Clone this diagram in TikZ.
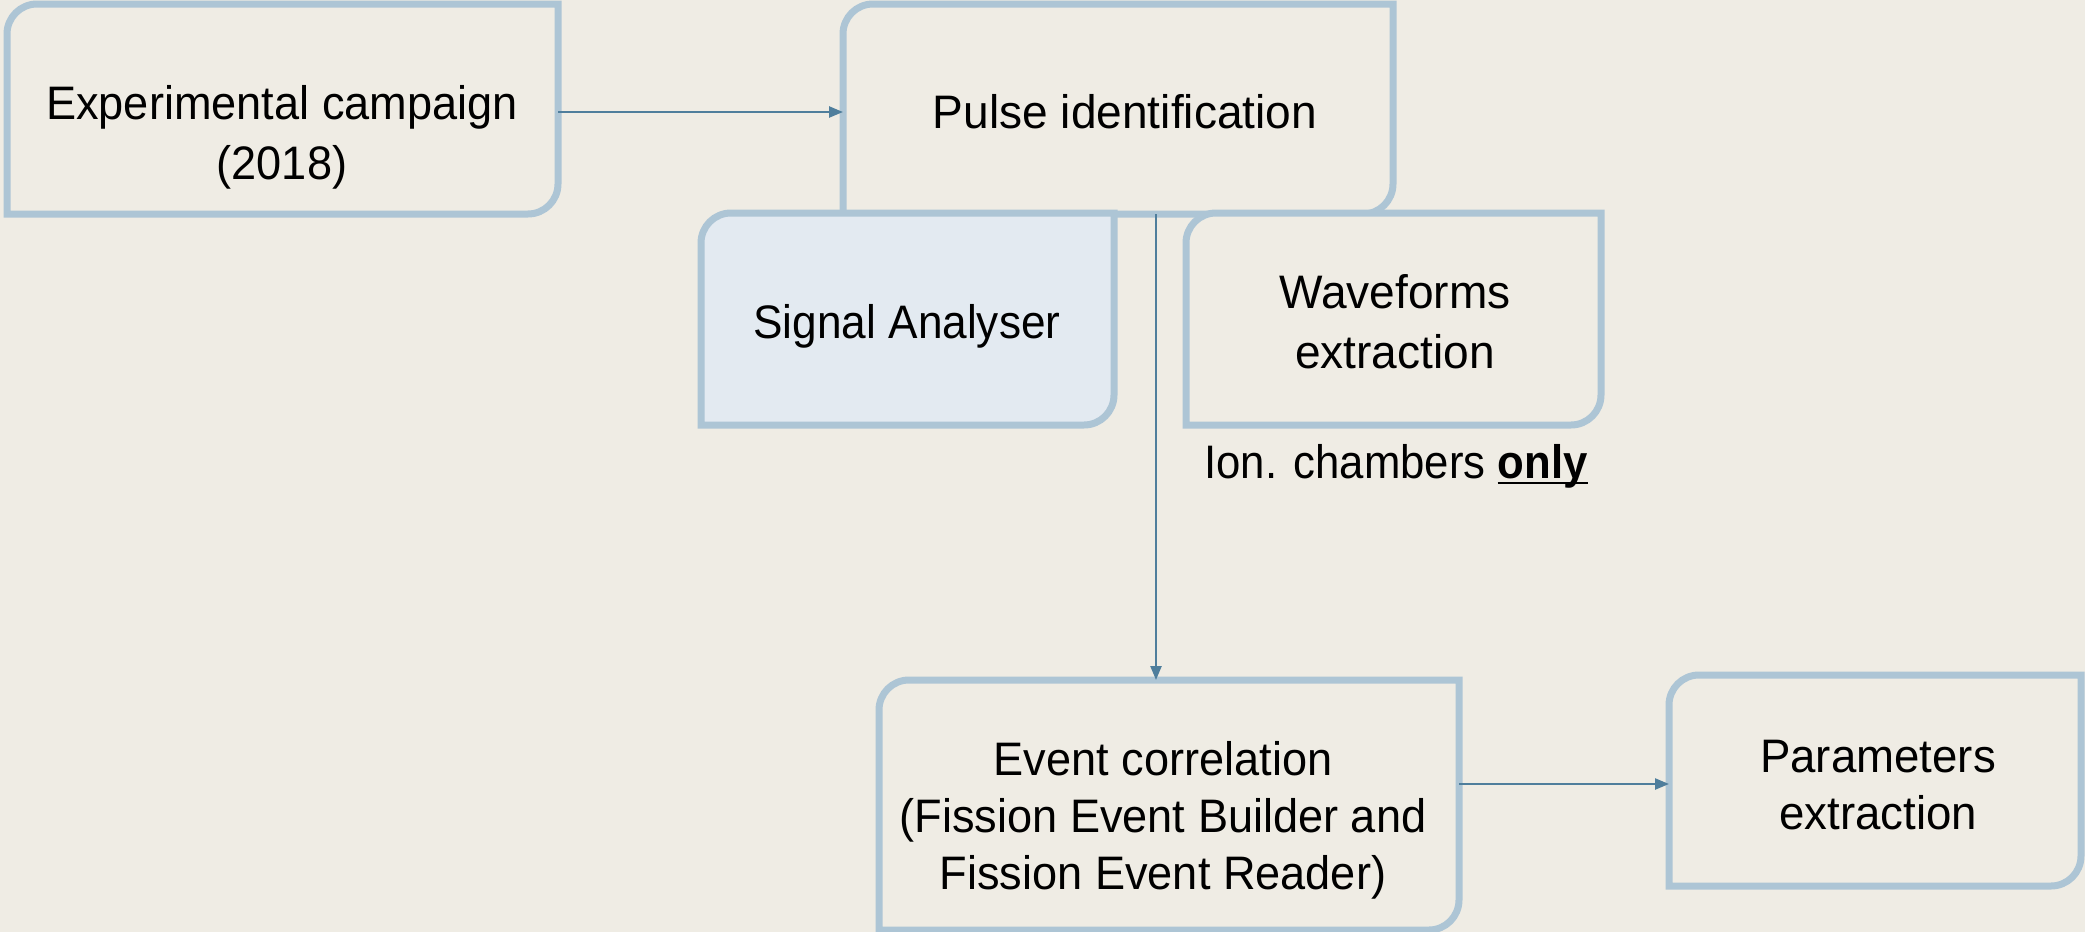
\documentclass[tikz,border=0pt]{standalone}
\usepackage{fontspec}
\setmainfont{Liberation Sans}
\usetikzlibrary{arrows.meta,calc}

\definecolor{paper}{HTML}{EFECE4}
\definecolor{frameblue}{HTML}{ADC5D5}
\definecolor{softblue}{HTML}{E3EAF1}
\definecolor{flowblue}{HTML}{4F7E9C}

% frame with rounded top-left and bottom-right corners
\newcommand\diagframe[2]{%
  \draw[line width=3.5pt, draw=frameblue, fill=#2]
    (#1.south west) -- ([yshift=-15pt]#1.north west)
    arc[start angle=180, end angle=90, radius=15pt]
    -- (#1.north east) -- ([yshift=15pt]#1.south east)
    arc[start angle=0, end angle=-90, radius=15pt]
    -- cycle;}

% horizontally narrowed line of text
\newcommand\nar[2]{\scalebox{#1}[1]{#2}}
% thick underline
\newcommand\ulthick[1]{\setbox0\hbox{#1}\rlap{\rule[-3pt]{\wd0}{1.3pt}}\box0}

\tikzset{
  x=0.5pt, y=0.5pt,
  slot/.style={inner sep=0pt, outer sep=0pt, draw=none, minimum width=#1},
  label text/.style={align=center, inner sep=0pt, font=\fontsize{23.5}{30}\selectfont},
  flow/.style={draw=flowblue, line width=1.2pt, -{Triangle[length=7pt,width=5.5pt]}}
}

\begin{document}
\begin{tikzpicture}
\useasboundingbox[fill=paper] (0,-932) rectangle (2085,0);

% box slots
\node[slot=275.5pt, minimum height=105pt] (exp)  at (282.5,-109) {};
\node[slot=275pt,   minimum height=105pt] (pulse) at (1118,-109) {};
\node[slot=206.5pt, minimum height=106pt] (sig)  at (907.5,-319) {};
\node[slot=207.5pt, minimum height=106pt] (wave) at (1393.5,-319) {};
\node[slot=290pt,   minimum height=125pt] (evt)  at (1169,-805) {};
\node[slot=206pt,   minimum height=105.5pt] (par) at (1875,-780.5) {};

% frames, later ones on top
\diagframe{exp}{paper}
\diagframe{pulse}{paper}
\diagframe{sig}{softblue}
\diagframe{wave}{paper}
\diagframe{evt}{paper}
\diagframe{par}{paper}

% texts
\node[label text] (texp)   at (282,-137)  {\nar{0.96}{Experimental campaign}\\\nar{0.96}{(2018)}};
\node[label text] (tpulse) at (1125,-112) {\nar{0.98}{Pulse identification}};
\node[label text] (tsig)   at (907,-326)  {\nar{0.94}{Signal Analyser}};
\node[label text] (twave)  at (1395,-322) {\nar{0.98}{Waveforms}\\\nar{0.98}{extraction}};
\node[label text] (tion)   at (1396,-466) {\nar{0.93}{Ion. chambers \ulthick{\textbf{only}}}};
\node[label text, font=\fontsize{23.5}{28.5}\selectfont] (tevt) at (1163,-820)
  {\nar{0.96}{Event correlation}\\\nar{0.96}{(Fission Event Builder and}\\\nar{0.96}{Fission Event Reader)}};
\node[label text, font=\fontsize{23.5}{28.5}\selectfont] (tpar) at (1878,-785)
  {\nar{0.97}{Parameters}\\\nar{0.97}{extraction}};

% connectors
\draw[flow] ([yshift=-1.5pt]exp.east) -- ([yshift=-1.5pt]exp.east -| pulse.west);
\draw[flow] ([xshift=19pt]pulse.south) -- ([xshift=19pt]pulse.south |- evt.north);
\draw[flow] ([yshift=-1.75pt]par.west -| evt.east) -- ([yshift=-1.75pt]par.west);
\end{tikzpicture}
\end{document}
